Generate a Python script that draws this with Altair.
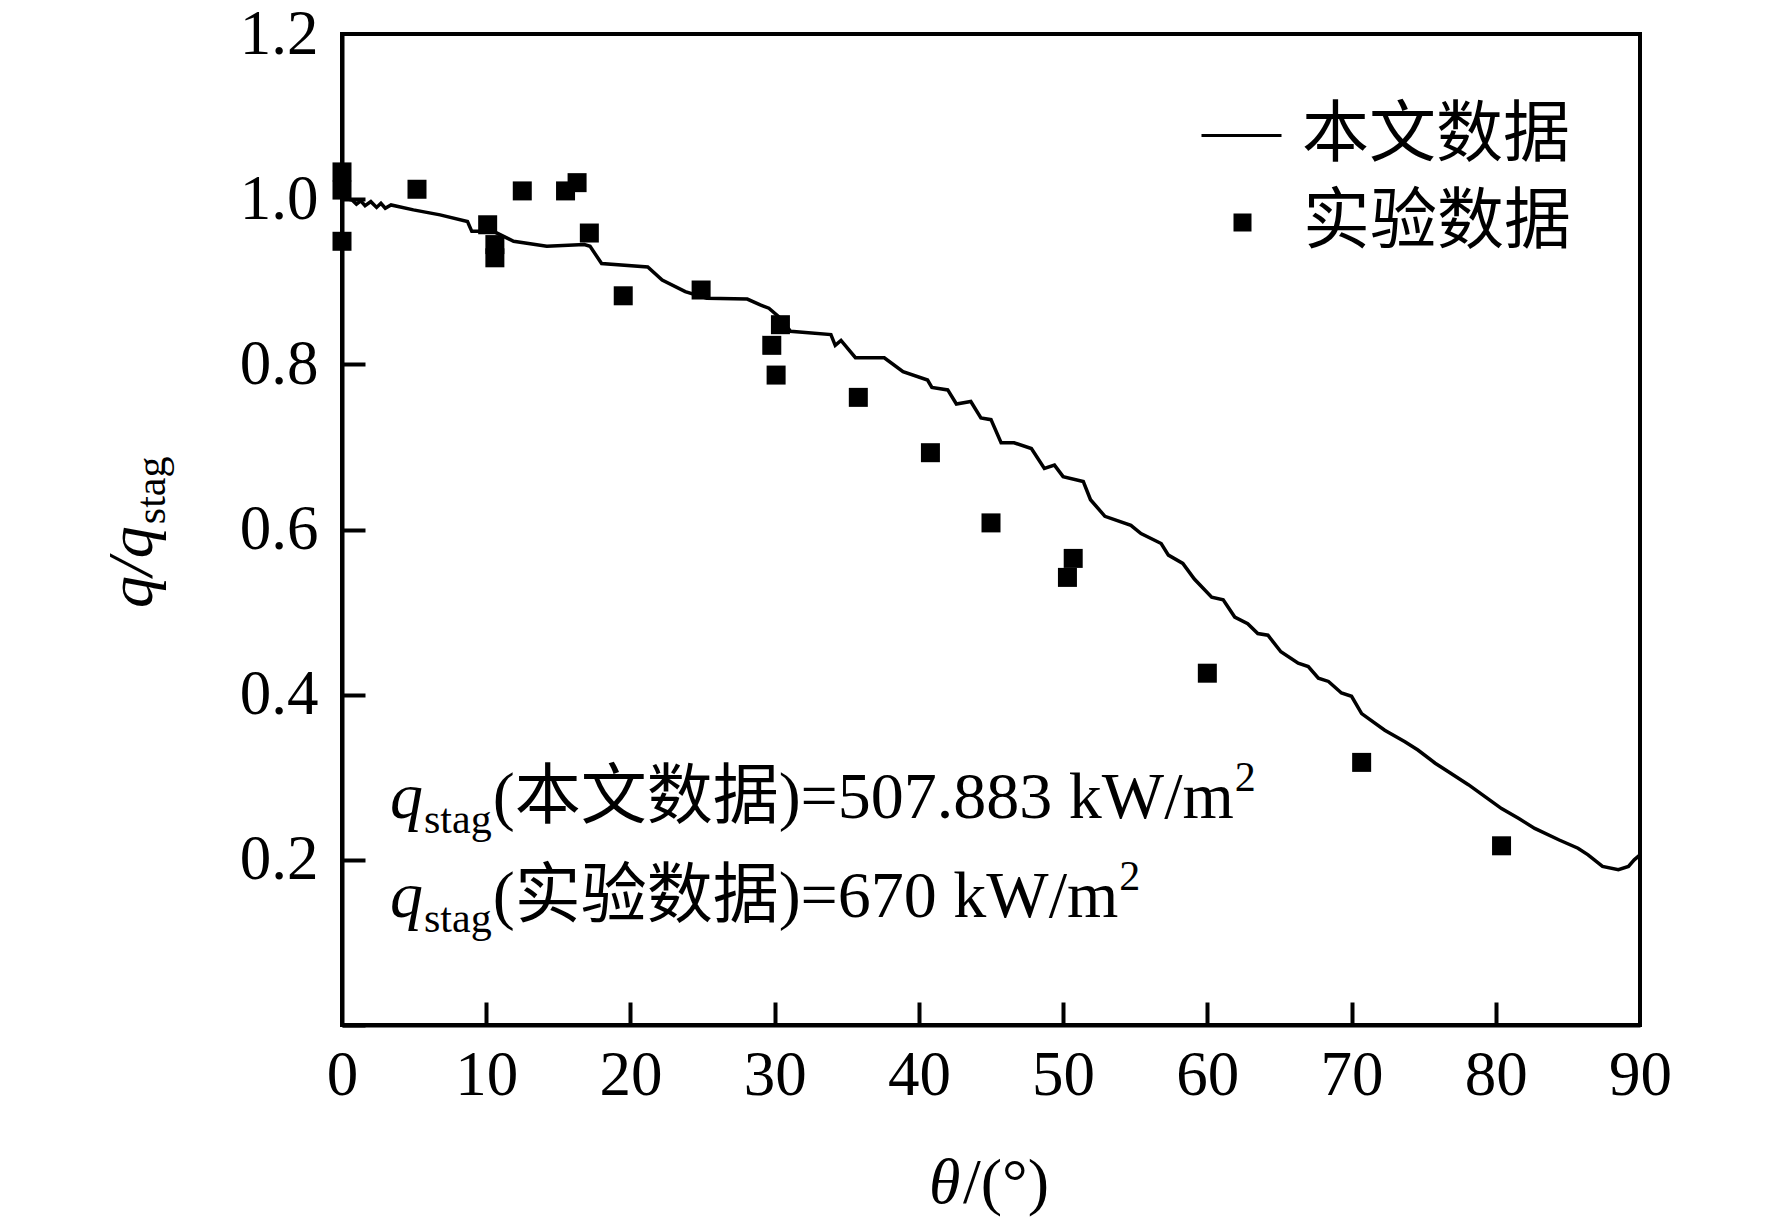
import altair as alt
import pandas as pd

# ---------------- data ----------------
line_theta = [0, 0.7, 1.0, 1.3, 1.6, 2.0, 2.4, 2.7, 3.0, 3.4, 4.95, 6.8, 8.7, 9.0, 10.5,
              11.9, 14.2, 16.8, 17.2, 18.0, 21.2, 22.2, 23.8, 25.3, 28.1, 29.0, 29.6, 30.4,
              31.1, 33.9, 34.2, 34.6, 35.6, 37.6, 38.9, 40.6, 40.9, 42.0, 42.6, 43.6, 44.3,
              45.0, 45.7, 46.6, 47.8, 48.7, 49.4, 50.0, 51.4, 51.9, 52.9, 54.7, 55.4, 56.8,
              57.3, 58.3, 59.1, 60.3, 61.1, 61.9, 62.8, 63.5, 64.2, 65.1, 66.3, 67.0, 67.7,
              68.4, 69.3, 70.0, 70.7, 72.3, 73.7, 74.6, 75.8, 76.5, 78.1, 79.3, 80.4, 81.6,
              82.7, 84.4, 85.7, 86.4, 87.4, 88.5, 89.2, 89.6, 90.0]
line_ratio = [1.002, 0.999, 0.994, 0.998, 0.992, 0.997, 0.990, 0.995, 0.989, 0.993, 0.987,
              0.981, 0.973, 0.961, 0.961, 0.949, 0.943, 0.945, 0.943, 0.922, 0.918, 0.902,
              0.888, 0.880, 0.879, 0.872, 0.868, 0.856, 0.840, 0.836, 0.823, 0.829, 0.808,
              0.808, 0.791, 0.781, 0.772, 0.769, 0.752, 0.755, 0.735, 0.733, 0.705, 0.705,
              0.698, 0.674, 0.678, 0.664, 0.658, 0.636, 0.616, 0.605, 0.595, 0.583, 0.569,
              0.559, 0.540, 0.518, 0.515, 0.494, 0.486, 0.474, 0.472, 0.452, 0.438, 0.434,
              0.420, 0.416, 0.402, 0.398, 0.377, 0.357, 0.343, 0.333, 0.317, 0.309, 0.291,
              0.276, 0.262, 0.250, 0.238, 0.224, 0.214, 0.206, 0.192, 0.188, 0.192, 0.200,
              0.206]

exp_theta = [0, 0, 0, 5.2, 10.1, 10.6, 10.6, 12.5, 15.5, 16.3, 17.15, 19.5, 24.9, 29.8,
             30.1, 30.4, 35.8, 40.8, 45.0, 50.3, 50.7, 60.0, 70.7, 80.4]
exp_ratio = [1.033, 1.011, 0.949, 1.012, 0.969, 0.945, 0.929, 1.010, 1.010, 1.020, 0.959,
             0.883, 0.890, 0.823, 0.787, 0.848, 0.760, 0.693, 0.608, 0.542, 0.565, 0.426,
             0.318, 0.217]

x_label_values = [0, 10, 20, 30, 40, 50, 60, 70, 80, 90]
x_tick_values = [10, 20, 30, 40, 50, 60, 70, 80]
y_label_values = [0.2, 0.4, 0.6, 0.8, 1.0, 1.2]
y_tick_values = [0.0, 0.2, 0.4, 0.6, 0.8, 1.0]

series_line = ["本文数据"]
series_exp = ["实验数据"]

ann1_main = "(本文数据)=507.883 kW/m"
ann2_main = "(实验数据)=670 kW/m"

# ---------------- layout ----------------
W, H = 1298, 991
SERIF = "Liberation Serif"
MIXED = "Liberation Serif, Noto Sans CJK SC"

line_df = pd.DataFrame({"theta": line_theta, "ratio": line_ratio,
                        "s_line": series_line * len(line_theta)})
exp_df = pd.DataFrame({"theta": exp_theta, "ratio": exp_ratio,
                       "s_exp": series_exp * len(exp_theta)})

xscale = alt.Scale(domain=[0, 90], nice=False, zero=False)
yscale = alt.Scale(domain=[0, 1.2], nice=False, zero=False)

label_axis_common = dict(ticks=False, labelFont=SERIF, labelFontSize=63,
                         labelColor="black", domainColor="black", domainWidth=4,
                         grid=False, title=None, labelFlush=False, labelOverlap=False)

line = alt.Chart(line_df).mark_line(color="black", strokeWidth=3.5).encode(
    x=alt.X("theta:Q", scale=xscale,
            axis=alt.Axis(orient="bottom", values=x_label_values, labelPadding=19,
                          **label_axis_common)),
    y=alt.Y("ratio:Q", scale=yscale,
            axis=alt.Axis(orient="left", values=y_label_values, format=".1f",
                          labelPadding=24, **label_axis_common)),
    color=alt.Color("s_line:N", scale=alt.Scale(domain=series_line, range=["black"]),
                    legend=alt.Legend(orient="none", legendX=858, legendY=60, title=None,
                                      symbolType="stroke", symbolSize=6400,
                                      symbolStrokeWidth=3, symbolStrokeColor="black",
                                      labelFont=MIXED, labelFontSize=67,
                                      labelColor="black", labelOffset=19, padding=0,
                                      labelLimit=600)),
)

tick_axis_common = dict(labels=False, domain=False, tickSize=23, tickWidth=4,
                        tickColor="black", grid=False, title=None)

points = alt.Chart(exp_df).mark_point(filled=True, color="black", size=361, opacity=1).encode(
    x=alt.X("theta:Q", scale=xscale,
            axis=alt.Axis(orient="top", offset=-H, values=x_tick_values, **tick_axis_common)),
    y=alt.Y("ratio:Q", scale=yscale,
            axis=alt.Axis(orient="right", offset=-W, values=y_tick_values, **tick_axis_common)),
    shape=alt.Shape("s_exp:N", scale=alt.Scale(domain=series_exp, range=["square"]),
                    legend=alt.Legend(orient="none", legendX=867, legendY=155, title=None,
                                      symbolSize=324, symbolFillColor="black",
                                      symbolStrokeColor="black", symbolStrokeWidth=0,
                                      labelFont=MIXED, labelFontSize=67,
                                      labelColor="black", labelOffset=27, padding=0,
                                      labelLimit=600)),
)

blank = pd.DataFrame({"k": [0]})


def txt(s, x, y, size, italic=False, angle=0, font=SERIF):
    kw = dict(align="left", baseline="alphabetic", font=font, fontSize=size,
              color="black")
    if italic:
        kw["fontStyle"] = "italic"
    if angle:
        kw["angle"] = angle
    return alt.Chart(blank).mark_text(**kw).encode(
        x=alt.value(x), y=alt.value(y), text=alt.value(s))


# approximate advance widths (em) for Liberation Serif / CJK
ADV = {' ': 0.25, '(': 0.333, ')': 0.333, '=': 0.564, '.': 0.25, 'k': 0.5, 'W': 0.944,
       '/': 0.278, 'm': 0.778, 's': 0.389, 't': 0.278, 'a': 0.444, 'g': 0.5, 'q': 0.5}


def width(s, size):
    w = 0.0
    for ch in s:
        if ch.isdigit():
            w += 0.5
        elif ch in ADV:
            w += ADV[ch]
        else:
            w += 1.0
    return w * size


def annotation(main, x0, y0, F=66, S=42):
    parts = []
    parts.append(txt("q", x0, y0, F, italic=True))
    xs = x0 + width("q", F) + 1
    parts.append(txt("stag", xs, y0 + 15, S))
    xm = xs + width("stag", S) + 1
    parts.append(txt(main, xm, y0, F, font=MIXED))
    xe = xm + width(main, F) + 1
    parts.append(txt("2", xe, y0 - 27, S))
    return parts


texts = []
texts += annotation(ann1_main, 48, 784)
texts += annotation(ann2_main, 48, 883)

# y axis title (rotated)
texts.append(txt("q/q", -190, 574, 64, italic=True, angle=270))
texts.append(txt("stag", -177, 574 - width("q/q", 64) - 2, 42, angle=270))

# x axis title
texts.append(txt("θ", 587, 1169, 64, italic=True))
texts.append(txt("/(°)", 587 + 34, 1169, 64))

chart = alt.layer(line, points, *texts).resolve_axis(
    x="independent", y="independent"
).resolve_legend(color="independent", shape="independent").properties(
    width=W, height=H,
    autosize=alt.AutoSizeParams(type="none"),
    padding={"left": 334, "top": 26, "right": 124, "bottom": 195},
    background="white",
).configure_view(stroke="black", strokeWidth=4)

chart.save("out.html", embed_options={"renderer": "svg", "actions": False})
